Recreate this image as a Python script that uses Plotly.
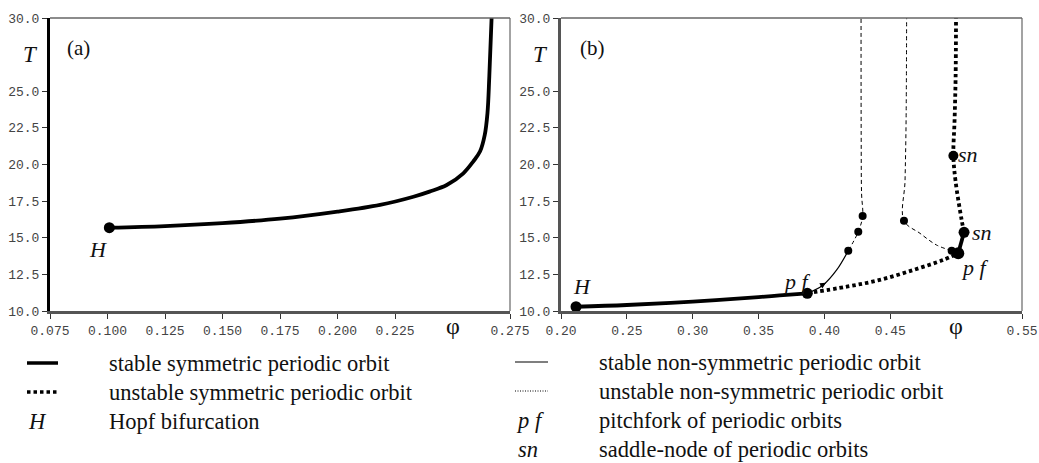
import plotly.graph_objects as go

W, H = 1039, 463

# ---------------- data ----------------
# panel (a): stable symmetric periodic orbit branch
a_phi = [0.1008, 0.125, 0.150, 0.175, 0.200, 0.2185, 0.233, 0.240, 0.2475, 0.2547, 0.2590, 0.2620, 0.2640, 0.2652, 0.2660, 0.2670]
a_T = [15.69, 15.80, 16.00, 16.30, 16.78, 17.24, 17.80, 18.15, 18.60, 19.40, 20.20, 20.90, 22.00, 23.50, 26.00, 30.00]
a_hopf = (0.1008, 15.69)

# panel (b)
sym_st1_phi = [0.2114, 0.25, 0.30, 0.35, 0.366, 0.387]
sym_st1_T = [10.29, 10.41, 10.64, 10.95, 11.06, 11.21]
sym_un1_phi = [0.387, 0.4169, 0.442, 0.4675, 0.490, 0.5016]
sym_un1_T = [11.21, 11.66, 12.12, 12.80, 13.48, 13.94]
sym_st2_phi = [0.5016, 0.506]
sym_st2_T = [13.94, 15.37]
sym_un2_phi = [0.506, 0.5042, 0.4995, 0.4979, 0.4988, 0.4996, 0.4999]
sym_un2_T = [15.37, 16.2, 18.9, 20.6, 23.0, 26.0, 30.0]

ns1_st_phi = [0.387, 0.3991, 0.4093, 0.4181]
ns1_st_T = [11.21, 11.78, 12.80, 14.12]
ns1_un_phi = [0.4181, 0.4257, 0.4290, 0.4282, 0.4279, 0.4278]
ns1_un_T = [14.12, 15.41, 16.48, 18.0, 22.0, 30.0]
ns2_un_phi = [0.4966, 0.4852, 0.4726, 0.4604, 0.4612, 0.4620, 0.4624]
ns2_un_T = [14.12, 14.5, 15.30, 16.16, 18.9, 23.0, 30.0]

big_pts_phi = [0.2114, 0.387, 0.5016, 0.506, 0.4979]
big_pts_T = [10.29, 11.21, 13.94, 15.37, 20.6]
big_pts_size = [11, 11, 12, 11, 10]
small_pts_phi = [0.4181, 0.4257, 0.4290, 0.4604, 0.4966]
small_pts_T = [14.12, 15.41, 16.48, 16.16, 14.12]

a_xticks = [0.075, 0.100, 0.125, 0.150, 0.175, 0.200, 0.225, 0.275]
b_xticks = [0.20, 0.25, 0.30, 0.35, 0.40, 0.45, 0.55]
y_ticks = [10.0, 12.5, 15.0, 17.5, 20.0, 22.5, 25.0, 30.0]

legend_left = ["stable symmetric periodic orbit", "unstable symmetric periodic orbit", "Hopf bifurcation"]
legend_right = ["stable non-symmetric periodic orbit", "unstable non-symmetric periodic orbit",
                "pitchfork of periodic orbits", "saddle-node of periodic orbits"]

# ---------------- figure ----------------
SERIF = "Liberation Serif, Times New Roman, serif"
MONO = "Liberation Mono, Courier New, monospace"
BLK = "#000000"

fig = go.Figure()

def line(x, y, xa, ya, width, dash="solid", shape="linear"):
    fig.add_trace(go.Scatter(x=x, y=y, xaxis=xa, yaxis=ya, mode="lines",
                             line=dict(color=BLK, width=width, dash=dash, shape=shape, smoothing=1.0),
                             hoverinfo="skip", showlegend=False))

# panel a
line(a_phi, a_T, "x", "y", 3.8, shape="spline")
fig.add_trace(go.Scatter(x=[a_hopf[0]], y=[a_hopf[1]], xaxis="x", yaxis="y", mode="markers",
                         marker=dict(color=BLK, size=11, opacity=1), showlegend=False, hoverinfo="skip"))

# panel b
line(sym_st1_phi, sym_st1_T, "x2", "y2", 3.8, shape="spline")
line(sym_un1_phi, sym_un1_T, "x2", "y2", 3.8, "3.5px,3px", shape="spline")
line(sym_st2_phi, sym_st2_T, "x2", "y2", 3.8)
line(sym_un2_phi, sym_un2_T, "x2", "y2", 3.8, "3.5px,3px", shape="spline")
line(ns1_st_phi, ns1_st_T, "x2", "y2", 1.2, shape="spline")
line(ns1_un_phi, ns1_un_T, "x2", "y2", 1.0, "4px,3px", shape="spline")
line(ns2_un_phi, ns2_un_T, "x2", "y2", 1.0, "4px,3px", shape="spline")

fig.add_trace(go.Scatter(x=big_pts_phi, y=big_pts_T, xaxis="x2", yaxis="y2", mode="markers",
                         marker=dict(color=BLK, size=big_pts_size, opacity=1, line=dict(width=0)),
                         showlegend=False, hoverinfo="skip"))
fig.add_trace(go.Scatter(x=small_pts_phi, y=small_pts_T, xaxis="x2", yaxis="y2", mode="markers",
                         marker=dict(color=BLK, size=8, opacity=1, line=dict(width=0)),
                         showlegend=False, hoverinfo="skip"))

ydom = [1 - 311 / H, 1 - 18 / H]
tickfont = dict(family=MONO, size=13, color="#444444")

def xaxis_cfg(dom, rng, ticks, fmt, anchor):
    return dict(domain=dom, range=rng, tickvals=ticks, ticktext=[fmt.format(t) for t in ticks],
                ticks="outside", ticklen=5, tickwidth=1.2, tickcolor="#333333",
                showline=True, linecolor="#555555", linewidth=3, showgrid=False, zeroline=False,
                tickfont=tickfont, anchor=anchor, fixedrange=True, automargin=False)

def yaxis_cfg(anchor, lc):
    return dict(domain=ydom, range=[10, 30], tickvals=y_ticks, ticktext=["{:.1f}".format(t) for t in y_ticks],
                ticks="outside", ticklen=5, tickwidth=1.2, tickcolor="#333333",
                showline=True, linecolor=lc, linewidth=3, showgrid=False, zeroline=False,
                tickfont=tickfont, anchor=anchor, fixedrange=True, automargin=False)

fig.update_layout(
    width=W, height=H, margin=dict(l=0, r=0, t=0, b=0, autoexpand=False),
    paper_bgcolor="white", plot_bgcolor="white", showlegend=False,
    xaxis=xaxis_cfg([50 / W, 510 / W], [0.075, 0.275], a_xticks, "{:.3f}", "y"),
    yaxis=yaxis_cfg("x", "#000000"),
    xaxis2=xaxis_cfg([561 / W, 1022 / W], [0.20, 0.55], b_xticks, "{:.2f}", "y2"),
    yaxis2=yaxis_cfg("x2", "#555555"),
)

shapes = []
for xr, yr in (("x domain", "y domain"), ("x2 domain", "y2 domain")):
    shapes.append(dict(type="line", xref=xr, yref=yr, x0=0, x1=1, y0=1, y1=1, line=dict(color="#666666", width=1.5)))
    shapes.append(dict(type="line", xref=xr, yref=yr, x0=1, x1=1, y0=0, y1=1, line=dict(color="#666666", width=1.2)))

def px(xp, yp):
    return xp / W, 1 - yp / H

# legend samples
legend_samples = [
    (27, 58, 363, 3.5, "solid"),
    (27, 58, 392, 3.5, "3.5px,3px"),
    (515, 548, 362, 1.2, "solid"),
    (515, 548, 391, 1.0, "1px,1.5px"),
]
for x0, x1, yy, w, d in legend_samples:
    a0 = px(x0, yy); a1 = px(x1, yy)
    shapes.append(dict(type="line", xref="paper", yref="paper", x0=a0[0], x1=a1[0], y0=a0[1], y1=a1[1],
                       line=dict(color=BLK, width=w, dash=d)))
fig.update_layout(shapes=shapes)

ann = []
def text(xp, yp, s, size=20, xanchor="center", family=SERIF, color="#111111"):
    x, y = px(xp, yp)
    ann.append(dict(xref="paper", yref="paper", x=x, y=y, text=s, showarrow=False,
                    xanchor=xanchor, yanchor="middle", font=dict(family=family, size=size, color=color)))

def dtext(xa, ya, x, y, s, size=22):
    ann.append(dict(xref=xa, yref=ya, x=x, y=y, text=s, showarrow=False, xanchor="center", yanchor="middle",
                    font=dict(family=SERIF, size=size, color="#111111")))

# panel labels / axis titles
text(78, 48, "(a)", 21)
text(592, 48, "(b)", 21)
text(30, 54, "<i>T</i>", 23)
text(540, 54, "<i>T</i>", 23)
dtext("x", "paper", 0.25, px(0, 326)[1], "φ", 24)
dtext("x2", "paper", 0.50, px(0, 326)[1], "φ", 24)

# point labels
dtext("x", "y", 0.0959, 14.23, "<i>H</i>")
dtext("x2", "y2", 0.216, 11.64, "<i>H</i>")
dtext("x2", "y2", 0.379, 11.98, "<i>p f</i>")
dtext("x2", "y2", 0.5143, 13.0, "<i>p f</i>")
dtext("x2", "y2", 0.5196, 15.39, "<i>sn</i>")
dtext("x2", "y2", 0.5092, 20.65, "<i>sn</i>")

# small arrow on stable non-symmetric branch
ann.append(dict(xref="x2", yref="y2", axref="x2", ayref="y2", x=0.4012, y=11.92, ax=0.3955, ay=11.62,
                showarrow=True, arrowhead=2, arrowsize=1.2, arrowwidth=1, arrowcolor=BLK, text=""))

# legend texts
LS = 22.5
for i, s in enumerate(legend_left):
    text(107, 363 + 29 * i, s, LS, "left")
text(37, 421, "<i>H</i>", LS)
for i, s in enumerate(legend_right):
    text(597, 362 + 29 * i, s, LS, "left")
text(530, 420, "<i>p f</i>", LS)
text(528, 449, "<i>sn</i>", LS)

fig.update_layout(annotations=ann)
fig.write_html("out.html", config={"displayModeBar": False},
               post_script="document.body.style.margin='0';document.body.style.overflow='hidden';")
